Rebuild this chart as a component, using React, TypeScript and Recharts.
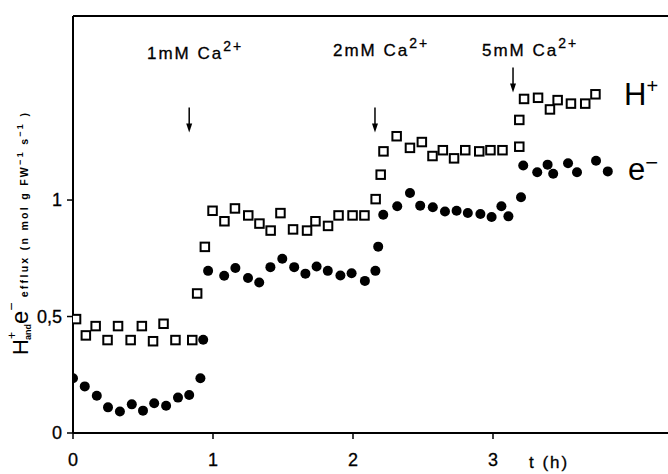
import { ScatterChart, Scatter, XAxis, YAxis, ReferenceLine, ReferenceDot, Customized } from "recharts";

// H+ efflux (open squares)
const hT = [0.02, 0.09, 0.16, 0.245, 0.32, 0.41, 0.49, 0.57, 0.645, 0.73, 0.85, 0.885, 0.94, 0.995, 1.08, 1.155, 1.25, 1.33, 1.41, 1.48, 1.57, 1.67, 1.73, 1.82, 1.895, 1.995, 2.08, 2.16, 2.196, 2.216, 2.31, 2.405, 2.49, 2.566, 2.64, 2.72, 2.8, 2.9, 2.98, 3.066, 3.186, 3.186, 3.22, 3.32, 3.405, 3.46, 3.555, 3.657, 3.73];
const hV = [0.49, 0.42, 0.46, 0.4, 0.46, 0.4, 0.46, 0.395, 0.47, 0.4, 0.4, 0.6, 0.8, 0.955, 0.91, 0.965, 0.935, 0.9, 0.87, 0.945, 0.875, 0.87, 0.91, 0.89, 0.935, 0.935, 0.935, 1.005, 1.11, 1.21, 1.275, 1.225, 1.25, 1.19, 1.215, 1.18, 1.215, 1.21, 1.215, 1.215, 1.23, 1.345, 1.435, 1.44, 1.39, 1.43, 1.415, 1.415, 1.455];

// e- efflux (filled circles)
const eT = [0, 0.084, 0.17, 0.25, 0.335, 0.42, 0.5, 0.58, 0.665, 0.75, 0.83, 0.91, 0.93, 0.965, 1.08, 1.16, 1.25, 1.33, 1.41, 1.495, 1.58, 1.66, 1.74, 1.82, 1.91, 1.99, 2.085, 2.16, 2.18, 2.216, 2.316, 2.407, 2.48, 2.57, 2.657, 2.74, 2.82, 2.91, 2.99, 3.06, 3.11, 3.2, 3.216, 3.316, 3.39, 3.43, 3.536, 3.6, 3.736, 3.82];
const eV = [0.235, 0.2, 0.16, 0.11, 0.092, 0.123, 0.096, 0.128, 0.117, 0.152, 0.163, 0.235, 0.4, 0.696, 0.675, 0.708, 0.665, 0.646, 0.712, 0.748, 0.712, 0.684, 0.715, 0.696, 0.676, 0.686, 0.653, 0.696, 0.8, 0.937, 0.973, 1.03, 0.976, 0.969, 0.951, 0.954, 0.944, 0.94, 0.927, 0.973, 0.93, 1.012, 1.148, 1.119, 1.152, 1.113, 1.158, 1.119, 1.169, 1.123];

const xTicks = [0, 1, 2, 3];
const yTicks = [0, 0.5, 1];

// Ca2+ additions: time (h) and arrow tip level
const doses = ["1mM", "2mM", "5mM"];
const doseTimes = [0.83, 2.157, 3.143];
const arrowTips = [1.29, 1.29, 1.462];

const hData = hT.map((t, i) => ({ t, v: hV[i] }));
const eData = eT.map((t, i) => ({ t, v: eV[i] }));

const FONT = "'Liberation Sans', Arial, sans-serif";

const Square = (p: any) => (
  <rect x={p.cx - 4} y={p.cy - 4} width={8.5} height={8.5} fill="#fff" stroke="#000" strokeWidth={2} />
);
const Dot = (p: any) => <circle cx={p.cx} cy={p.cy} r={5} fill="#000" />;
const Arrow = (p: any) => (
  <g>
    <line x1={p.cx} y1={p.cy - 25} x2={p.cx} y2={p.cy - 6} stroke="#000" strokeWidth={1.5} />
    <path d={`M${p.cx - 3},${p.cy - 9} L${p.cx + 3},${p.cy - 9} L${p.cx},${p.cy} Z`} fill="#000" />
  </g>
);

const doseTextX = [147, 333, 482];
const doseTextY = [59, 56, 56];

const small = { fontSize: 10.5, fontWeight: "bold" as const, letterSpacing: 2.3 };

const Texts = () => (
  <g fontFamily={FONT} fill="#000">
    {doses.map((d, i) => (
      <text key={d} x={doseTextX[i]} y={doseTextY[i]} fontSize={17} letterSpacing={2} stroke="#000" strokeWidth={0.3}>
        {d} Ca<tspan dy={-8} fontSize={14}>2+</tspan>
      </text>
    ))}
    <text x={624} y={105} fontSize={31}>
      H<tspan dy={-12} fontSize={20}>+</tspan>
    </text>
    <text x={628} y={180} fontSize={31}>
      e<tspan dy={-10} fontSize={22}>−</tspan>
    </text>
    <text x={529} y={468} fontSize={17} letterSpacing={2} stroke="#000" strokeWidth={0.3}>t (h)</text>
    <text transform="rotate(-90)" x={-355} y={28}>
      <tspan fontSize={22}>H</tspan>
      <tspan fontSize={12} dy={-12}>+</tspan>
      <tspan fontSize={9} fontWeight="bold" dy={15} dx={-8}>and</tspan>
      <tspan fontSize={24} dy={-3}>e</tspan>
      <tspan fontSize={14} dy={-12}>−</tspan>
      <tspan {...small} dy={12}> efflux  (n mol  g FW</tspan>
      <tspan {...small} fontSize={9} dy={-5}>−1</tspan>
      <tspan {...small} dy={5}> s</tspan>
      <tspan {...small} fontSize={9} dy={-5}>−1</tspan>
      <tspan {...small} dy={5}> )</tspan>
    </text>
  </g>
);

export default function App() {
  return (
    <div style={{ position: "absolute", left: 0, top: 0, background: "#fff" }}>
      <ScatterChart width={668} height={474} margin={{ top: 16, right: 0, bottom: 0, left: 0 }}>
        <XAxis
          type="number"
          dataKey="t"
          domain={[0, 4.25]}
          ticks={xTicks}
          allowDataOverflow
          height={41}
          axisLine={{ stroke: "#000", strokeWidth: 2 }}
          tickLine={{ stroke: "#000", strokeWidth: 1.5 }}
          tickSize={6}
          tickMargin={14}
          tick={{ fill: "#000", fontSize: 18, fontFamily: FONT, stroke: "#000", strokeWidth: 0.3 }}
        />
        <YAxis
          type="number"
          dataKey="v"
          domain={[0, 1.79]}
          ticks={yTicks}
          allowDataOverflow
          width={73}
          axisLine={{ stroke: "#000", strokeWidth: 2 }}
          tickLine={{ stroke: "#000", strokeWidth: 1.5 }}
          tickSize={6}
          tickMargin={5}
          tickFormatter={(v: number) => (v === 0.5 ? "0,5" : String(v))}
          tick={{ fill: "#000", fontSize: 18, fontFamily: FONT, stroke: "#000", strokeWidth: 0.3 }}
        />
        <ReferenceLine y={1.79} stroke="#000" strokeWidth={2} />
        <Scatter data={hData} shape={Square} isAnimationActive={false} />
        <Scatter data={eData} shape={Dot} isAnimationActive={false} />
        {doseTimes.map((t, i) => (
          <ReferenceDot key={i} x={t} y={arrowTips[i]} shape={Arrow} />
        ))}
        <Customized component={Texts} />
      </ScatterChart>
    </div>
  );
}
